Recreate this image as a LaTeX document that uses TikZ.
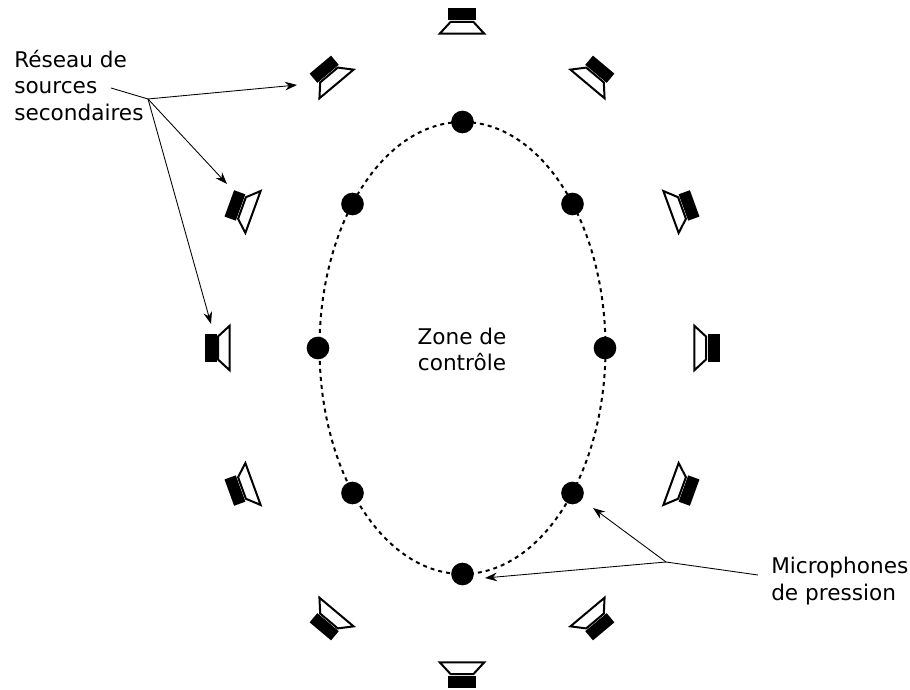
\documentclass[tikz,border=0pt]{standalone}
\usepackage{fontspec}
\setmainfont{DejaVu Sans}
\usetikzlibrary{arrows.meta}
\tikzset{
	mic/.style={circle, fill=black, inner sep=0pt, minimum size=17pt},
	label/.style={inner sep=0pt, font=\fontsize{16.2}{20}\selectfont},
	leader/.style={line width=0.65pt},
	speaker/.pic={
		\fill[black] (-14,1.5) rectangle (14,13.5);
		\draw[line width=1.5pt, line join=miter] (-11.5,0) -- (11.5,0) -- (22.3,-11.7) -- (-22.3,-11.7) -- cycle;
	}
}
\begin{document}
\begin{tikzpicture}[x=0.75pt, y=0.75pt, >={Stealth[length=9pt,width=6.5pt]}]
	\useasboundingbox (0,0) rectangle (910,689);
	% Control zone and its microphones
	\draw[line width=1.5pt, dash pattern=on 3pt off 3pt] (462.5,341) ellipse (143 and 226);
	\foreach \name/\px/\py in {1/462.5/567, 2/572.5/485, 3/605/341, 4/572.5/196, 5/462.5/115, 6/352.5/196, 7/318/341, 8/352.5/485}
		\node[mic] (mic\name) at (\px,\py) {};
	\node[label, align=center] (zone) at (462,339.5) {Zone de\\contrôle};
	% Ring of loudspeakers
	\foreach \px/\py/\rot in {462/667/0, 329/614/40, 242/481/70, 218/341/90, 242/201/110, 329/68/140, 462/15/180, 595/68/220, 682/201/250, 706/341/270, 682/481/290, 595/614/320}
		\pic[rotate=\rot] at (\px,\py) {speaker};
	% Labels and their leaders
	\node[label, align=left, anchor=west] (sources) at (14,603.5) {Réseau de\\sources\\secondaires};
	\node[label, align=left, anchor=west] (mics) at (771,108) {Microphones\\de pression};
	\coordinate (srcstart) at (111,601);
	\coordinate (srchub) at (148,590);
	\coordinate (srctipa) at (297,604);
	\coordinate (srctipb) at (227,505);
	\coordinate (srctipc) at (211,365);
	\coordinate (micstart) at (758,114);
	\coordinate (michub) at (666,127);
	\coordinate (mictipa) at (593,181);
	\coordinate (mictipb) at (485,111);
	\draw[leader] (srcstart) -- (srchub);
	\draw[leader, ->] (srchub) -- (srctipa);
	\draw[leader, ->] (srchub) -- (srctipb);
	\draw[leader, ->] (srchub) -- (srctipc);
	\draw[leader] (micstart) -- (michub);
	\draw[leader, ->] (michub) -- (mictipa);
	\draw[leader, ->] (michub) -- (mictipb);
\end{tikzpicture}
\end{document}
